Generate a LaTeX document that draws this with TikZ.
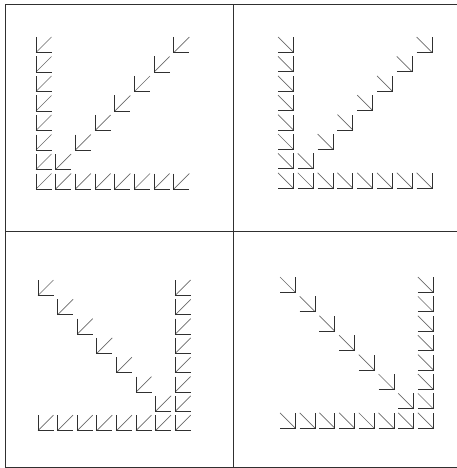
\documentclass[tikz,border=0pt]{standalone}
\usepackage{tikz}
\definecolor{inkdark}{HTML}{303030}
\definecolor{inkgray}{HTML}{6A6A6A}

\tikzset{
  frameline/.style={line width=0.9pt, inkdark},
  cornerline/.style={line width=0.9pt, inkdark},
  diagline/.style={line width=0.7pt, inkgray},
  pics/swglyph/.style={code={
    \draw[diagline] (0,15.5) -- (15.5,0);
    \draw[cornerline] (0,0) -- (0,15.5) -- (15.5,15.5);
  }},
  pics/seglyph/.style={code={
    \draw[diagline] (0,0) -- (15.5,15.5);
    \draw[cornerline] (0,15.5) -- (15.5,15.5) -- (15.5,0);
  }}
}

\begin{document}
\begin{tikzpicture}[x=1pt,y=-1pt]
    \useasboundingbox (0,0) rectangle (457,468);
    % Frame and dividers
    \draw[frameline] (460,4.5) -- (5,4.5) -- (5,467) -- (460,467);
    \draw[frameline] (233,4.5) -- (233,467);
    \draw[frameline] (5,231) -- (460,231);
    % Top left panel
    \foreach \i in {0,...,7}
      \pic at (36,{37+19.5*\i}) {swglyph};
    \foreach \i in {1,...,7}
      \pic at ({36+19.7*\i},{37+19.5*7}) {swglyph};
    \foreach \i in {0,...,6}
      \pic at ({36+19.7*(7-\i)},{37+19.5*\i}) {swglyph};
    % Top right panel
    \foreach \i in {0,...,7}
      \pic at (278,{37+19.4*\i}) {seglyph};
    \foreach \i in {1,...,7}
      \pic at ({278+19.8*\i},{37+19.4*7}) {seglyph};
    \foreach \i in {0,...,6}
      \pic at ({278+19.8*(7-\i)},{37+19.4*\i}) {seglyph};
    % Bottom left panel
    \foreach \i in {0,...,7}
      \pic at ({38+19.6*7},{280+19.3*\i}) {swglyph};
    \foreach \i in {0,...,6}
      \pic at ({38+19.6*\i},{280+19.3*7}) {swglyph};
    \foreach \i in {0,...,6}
      \pic at ({38+19.6*\i},{280+19.3*\i}) {swglyph};
    % Bottom right panel
    \foreach \i in {0,...,7}
      \pic at ({280+19.7*7},{277+19.4*\i}) {seglyph};
    \foreach \i in {0,...,6}
      \pic at ({280+19.7*\i},{277+19.4*7}) {seglyph};
    \foreach \i in {0,...,6}
      \pic at ({280+19.7*\i},{277+19.4*\i}) {seglyph};
\end{tikzpicture}
\end{document}
